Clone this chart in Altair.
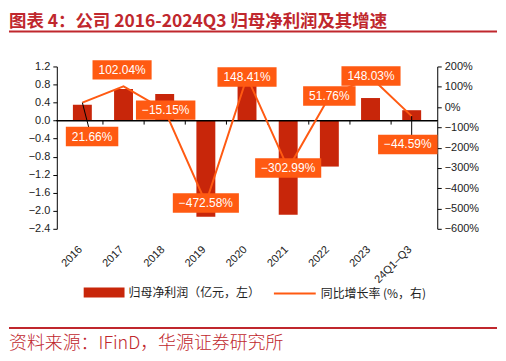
import json
import altair as alt
import pandas as pd

# ---------------- data ----------------
CATEGORIES = ["2016", "2017", "2018", "2019", "2020", "2021", "2022", "2023", "24Q1–Q3"]
NET_PROFIT = [0.35, 0.70, 0.59, -2.13, 1.03, -2.09, -1.02, 0.50, 0.23]          # 亿元, left axis
GROWTH = [21.66, 102.04, -15.15, -472.58, 148.41, -302.99, 51.76, 148.03, -44.59]  # %, right axis

LEFT_TICKS = [-2.4, -2.0, -1.6, -1.2, -0.8, -0.4, 0.0, 0.4, 0.8, 1.2]
RIGHT_TICKS = [-600, -500, -400, -300, -200, -100, 0, 100, 200]

BAR_NAME = "归母净利润（亿元，左）"
LINE_NAME = "同比增长率 (%，右)"
TITLE = "图表 4：公司 2016-2024Q3 归母净利润及其增速"
SOURCE = "资料来源：IFinD，华源证券研究所"

# ---------------- layout (pixels) ----------------
W, H = 382, 163
LABEL_DX_PX = [10, -1.5, 1, 0, 0, 0, 0, 0.5, -4]
LABEL_DY_PX = [34, -16.5, 0, 0, 0, -0.5, -0.5, -1, 28.5]
HAS_LEADER = [True, False, False, False, False, False, False, False, True]
LEADER_DX_PX = [9, 0, 0, 0, 0, 0, 0, 0, 0]

RED = "#c0272d"
BAR_COLOR = "#c8260a"
ORANGE = "#ff5a12"
TXT = "#222222"
LAT = "Liberation Sans"
CJK = "Noto Sans CJK SC"

n = len(CATEGORIES)
df = pd.DataFrame({
    "i": list(range(n)),
    "cat": CATEGORIES,
    "profit": NET_PROFIT,
    "growth": GROWTH,
    "ldx": LABEL_DX_PX,
    "ldy": LABEL_DY_PX,
    "leader": HAS_LEADER,
    "leaddx": LEADER_DX_PX,
})
bounds_df = pd.DataFrame({"b": [k + 0.5 for k in range(n - 1)], "z": [0.0] * (n - 1)})

xscale = alt.Scale(domain=[-0.5, n - 0.5], nice=False, zero=False)
lscale = alt.Scale(domain=[LEFT_TICKS[0], LEFT_TICKS[-1]], nice=False)
rscale = alt.Scale(domain=[RIGHT_TICKS[0], RIGHT_TICKS[-1]], nice=False)
zero_px = H * (LEFT_TICKS[-1] - 0) / (LEFT_TICKS[-1] - LEFT_TICKS[0])

label_axis = alt.Axis(
    orient="bottom",
    values=list(range(n)),
    labelExpr=json.dumps(CATEGORIES) + "[datum.value]",
    labelAngle=-45, labelAlign="right", labelBaseline="alphabetic", labelPadding=21,
    labelOverlap=False, labelBound=False, labelFlush=False,
    ticks=False, domain=False, grid=False, title=None,
    labelFont=LAT, labelFontSize=11, labelColor=TXT,
)
left_axis = alt.Axis(
    values=LEFT_TICKS, format=".1f", title=None, grid=False,
    tickSize=4, tickColor="black", domainColor="black", labelPadding=3,
    labelFont=LAT, labelFontSize=11, labelColor=TXT,
)
right_axis = alt.Axis(
    orient="right", values=RIGHT_TICKS,
    labelExpr="format(datum.value, 'd') + '%'", title=None, grid=False,
    tickSize=4, tickColor="black", domainColor="black", labelPadding=3,
    labelFont=LAT, labelFontSize=11, labelColor=TXT,
)

base = alt.Chart(df).transform_calculate(
    s1="'" + BAR_NAME + "'",
    s2="'" + LINE_NAME + "'",
    lx=f"datum.i + datum.ldx * {n} / {W}",
    ly=f"datum.growth - datum.ldy * {RIGHT_TICKS[-1] - RIGHT_TICKS[0]} / {H}",
    lx2=f"datum.i + datum.leaddx * {n} / {W}",
    label="format(datum.growth, '.2f') + '%'",
    bw="length(format(abs(datum.growth), '.2f')) * 6.67 - 3.34 + 10.67 + (datum.growth < 0 ? 7 : 0) + 12",
    shp="'M' + (-datum.bw / 100) + ',-0.195H' + (datum.bw / 100) + 'V0.195H' + (-datum.bw / 100) + 'Z'",
)

bars = base.mark_bar(size=19).encode(
    x=alt.X("i:Q", scale=xscale, axis=label_axis),
    y=alt.Y("profit:Q", scale=lscale, axis=left_axis),
    color=alt.Color("s1:N", scale=alt.Scale(domain=[BAR_NAME], range=[BAR_COLOR]),
                    legend=alt.Legend(title=None, orient="none", legendX=27, legendY=206.5,
                                      symbolType="M-1,-0.244H1V0.244H-1Z", symbolSize=1681,
                                      symbolStrokeWidth=0, labelFont=CJK, labelFontSize=12,
                                      labelColor=TXT, labelOffset=4, padding=0)),
)

# zero line with short downward ticks at category boundaries (left-axis zero)
zero_rule = alt.Chart(bounds_df).mark_rule(color="black", strokeWidth=1).encode(
    x=alt.value(0), x2=alt.value(W),
    y=alt.Y("z:Q", scale=lscale, axis=None),
)
zero_ticks = alt.Chart(bounds_df).mark_rule(color="black", strokeWidth=1).encode(
    x=alt.X("b:Q", scale=xscale, axis=None),
    y=alt.Y("z:Q", scale=lscale, axis=None),
    y2=alt.value(zero_px + 4),
)

line = base.mark_line(strokeWidth=2).encode(
    x=alt.X("i:Q", scale=xscale, axis=None),
    y=alt.Y("growth:Q", scale=rscale, axis=right_axis),
    stroke=alt.Stroke("s2:N", scale=alt.Scale(domain=[LINE_NAME], range=[ORANGE]),
                      legend=alt.Legend(title=None, orient="none", legendX=217, legendY=206,
                                        symbolType="stroke", symbolSize=1764, symbolStrokeWidth=2,
                                        labelFont=CJK, labelFontSize=12, labelColor=TXT,
                                        labelOffset=4, padding=0)),
)

leaders = base.transform_filter("datum.leader").mark_rule(color="black", strokeWidth=1).encode(
    x=alt.X("i:Q", scale=xscale, axis=None),
    y=alt.Y("growth:Q", scale=rscale, axis=None),
    x2="lx2:Q",
    y2="ly:Q",
)

boxes = base.mark_point(filled=True, opacity=1, color=ORANGE, strokeWidth=0).encode(
    x=alt.X("lx:Q", scale=xscale, axis=None),
    y=alt.Y("ly:Q", scale=rscale, axis=None),
    shape=alt.Shape("shp:N", scale=None, legend=None),
    size=alt.value(10000),
)

texts = base.mark_text(color="white", font=LAT, fontSize=12, align="center", baseline="middle").encode(
    x=alt.X("lx:Q", scale=xscale, axis=None),
    y=alt.Y("ly:Q", scale=rscale, axis=None),
    text="label:N",
)

one = alt.Data(values=[{}])
title_txt = alt.Chart(one).mark_text(
    text=TITLE, align="left", baseline="alphabetic", font=CJK, fontWeight="bold",
    fontSize=17.5, color=RED,
).encode(x=alt.value(-48), y=alt.value(-39.5))
title_rule = alt.Chart(one).mark_rule(color=RED, strokeWidth=2).encode(
    x=alt.value(-48), x2=alt.value(442), y=alt.value(-35))
foot_rule = alt.Chart(one).mark_rule(color=RED, strokeWidth=2).encode(
    x=alt.value(-48), x2=alt.value(442), y=alt.value(262.5))
foot_txt = alt.Chart(one).mark_text(
    text=SOURCE, align="left", baseline="alphabetic", font=CJK, fontWeight=300,
    fontSize=18, color=RED,
).encode(x=alt.value(-48), y=alt.value(284))

chart = alt.layer(
    bars, zero_rule, zero_ticks, line, leaders, boxes, texts,
    title_txt, title_rule, foot_rule, foot_txt,
).resolve_scale(
    y="independent"
).resolve_axis(
    x="independent"
).properties(
    width=W, height=H, background="white",
    padding={"top": 4, "left": 0, "right": 0, "bottom": 0},
).configure_view(stroke=None)

chart.save("out.html", embed_options={"renderer": "svg", "actions": False})
